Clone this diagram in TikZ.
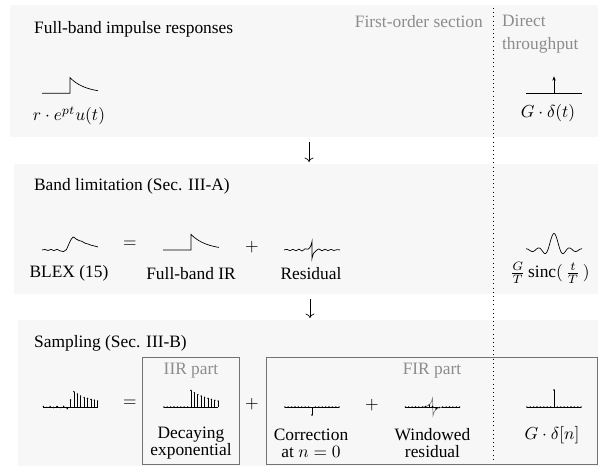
\documentclass[tikz,border=0pt]{standalone}
\usepackage{fontspec}
\setmainfont{Liberation Serif}
\usetikzlibrary{arrows.meta,fit}

\begin{document}
\begin{tikzpicture}[
  x=5.75pt, y=-5.75pt,
  font=\fontsize{10}{12}\selectfont,
  panel/.style={fill=black!3, inner sep=0pt},
  part/.style={draw=black!55, inner sep=0pt},
  title/.style={anchor=west},
  note/.style={text=black!45},
  lbl/.style={align=center, font=\fontsize{10}{9.6}\selectfont},
  wave/.style={y=5.75pt},
  arr/.style={->, shorten <=2.5pt, shorten >=1pt}
]
  \useasboundingbox (0,0) rectangle (60,46.6);
  % hintergrund der drei stufen
  \node[panel, fit={(1.0,0.5) (59.8,13.7)}]  (p1) {};
  \node[panel, fit={(1.4,16.4) (59.8,29.4)}] (p2) {};
  \node[panel, fit={(1.8,32.0) (59.8,46.6)}] (p3) {};
  \node[part, fit={(14.2,35.7) (23.9,46.4)}] (iir) {};
  \node[part, fit={(26.6,35.7) (59.7,46.4)}] (fir) {};
  \draw[dotted] (49.3,0.8) -- (49.3,46.0);
  % titel
  \node[title] (t1) at (2.8,2.9)  {Full-band impulse responses};
  \node[title] (t2) at (2.8,18.6) {Band limitation (Sec. III-A)};
  \node[title] (t3) at (2.8,34.3) {Sampling (Sec. III-B)};
  \node[note, anchor=east] (fos) at (48.9,2.2) {First-order section};
  \node[note, anchor=west, align=left, font=\fontsize{10}{13.4}\selectfont] (dtp) at (49.6,3.4) {Direct\\throughput};
  \node[note] (iirl) at (19.1,37.1) {IIR part};
  \node[note] (firl) at (43.2,37.1) {FIR part};
  % kurvenpositionen
  \coordinate (w1) at (7.0,9.33);
  \coordinate (w2) at (55.4,9.33);
  \coordinate (w3) at (7.0,25.0);
  \coordinate (w4) at (19.1,25.0);
  \coordinate (w5) at (31.2,25.0);
  \coordinate (w6) at (55.4,25.0);
  \coordinate (s1) at (7.05,40.7);
  \coordinate (s2) at (19.1,40.7);
  \coordinate (s3) at (31.2,40.7);
  \coordinate (s4) at (43.25,40.7);
  \coordinate (s5) at (55.4,40.7);
  % stufe 1
  \begin{scope}[shift={(w1)}, wave]
    \draw (-2.8,0) -- (0,0) -- (0,1.56) -- plot[domain=0:2.8, samples=30] (\x,{1.56*exp(-\x/1.56)});
  \end{scope}
  \begin{scope}[shift={(w2)}, wave]
    \draw (-2.8,0) -- (2.8,0);
    \draw[-{Stealth[length=2.5pt, width=2pt]}] (0,0) -- (0,1.7);
  \end{scope}
  \node (l1) at (6.9,11.6)  {$r\cdot e^{pt}u(t)$};
  \node (l2) at (54.8,11.3) {$G\cdot\delta(t)$};
  % stufe 2
  \begin{scope}[shift={(w3)}, wave]
    \draw plot[smooth, tension=0.55] coordinates {(-2.8,0) (-2.5,0.05) (-2.2,-0.05) (-1.9,0.06) (-1.6,-0.06) (-1.3,0.07) (-1.0,-0.08) (-0.65,-0.16) (-0.35,0.05) (-0.05,0.75) (0.3,1.3) (0.6,1.1) (0.9,0.95) (1.2,0.86) (1.5,0.68) (1.8,0.6) (2.1,0.48) (2.45,0.4) (2.8,0.3)};
  \end{scope}
  \begin{scope}[shift={(w4)}, wave]
    \draw (-2.8,0) -- (0,0) -- (0,1.56) -- plot[domain=0:2.8, samples=30] (\x,{1.56*exp(-\x/1.56)});
  \end{scope}
  \begin{scope}[shift={(w5)}, wave]
    \draw plot[smooth, tension=0.6] coordinates {(-2.8,0) (-2.5,0.06) (-2.2,-0.06) (-1.9,0.07) (-1.6,-0.08) (-1.3,0.09) (-1.0,-0.1) (-0.7,0.12) (-0.4,0.08) (-0.15,0.35) (0,0.85)}
      -- plot[smooth, tension=0.6] coordinates {(0,-0.85) (0.15,-0.35) (0.4,-0.08) (0.7,0.1) (1.0,-0.08) (1.3,0.08) (1.6,-0.06) (1.9,0.06) (2.2,-0.05) (2.5,0.04) (2.8,0)};
  \end{scope}
  \begin{scope}[shift={(w6)}, wave]
    \draw plot[domain=-2.8:2.8, samples=120, smooth] (\x,{1.65*sin(deg(pi*\x/0.62))/(pi*\x/0.62)});
  \end{scope}
  \node (l3) at (6.9,27.35)  {BLEX (15)};
  \node (l4) at (19.1,27.35) {Full-band IR};
  \node (l5) at (31.1,27.35) {Residual};
  \node (l6) at (55.0,27.3)  {$\frac{G}{T}\,\mathrm{sinc}(\,\frac{t}{T}\,)$};
  \node (eq1) at (13.0,24.4) {$=$};
  \node (pl1) at (25.2,24.7) {$+$};
  % stufe 3
  \begin{scope}[shift={(s1)}, wave]
    \draw (-2.72,0) -- (2.72,0);
    \foreach \k/\v in {-8/0.05,-7/-0.04,-6/0.05,-5/-0.05,-4/0.06,-3/-0.06,-2/0.07,-1/-0.18,0/0.7,1/1.55,2/1.3,3/1.1,4/0.95,5/0.85,6/0.76,7/0.68,8/0.6} {
      \draw (\k*0.34,0) -- (\k*0.34,\v);
      \fill (\k*0.34,\v) circle (0.45pt);
    }
  \end{scope}
  \begin{scope}[shift={(s2)}, wave]
    \draw (-2.72,0) -- (2.72,0);
    \foreach \k/\v in {-8/0,-7/0,-6/0,-5/0,-4/0,-3/0,-2/0,-1/0,0/1.65,1/1.42,2/1.25,3/1.1,4/0.97,5/0.86,6/0.76,7/0.67,8/0.6} {
      \draw (\k*0.34,0) -- (\k*0.34,\v);
      \fill (\k*0.34,\v) circle (0.45pt);
    }
  \end{scope}
  \begin{scope}[shift={(s3)}, wave]
    \draw (-2.72,0) -- (2.72,0);
    \foreach \k/\v in {-8/0,-7/0,-6/0,-5/0,-4/0,-3/0,-2/0,-1/0,0/-0.8,1/0,2/0,3/0,4/0,5/0,6/0,7/0,8/0} {
      \draw (\k*0.34,0) -- (\k*0.34,\v);
      \fill (\k*0.34,\v) circle (0.45pt);
    }
  \end{scope}
  \begin{scope}[shift={(s4)}, wave]
    \draw (-2.72,0) -- (2.72,0);
    \draw[black!50] (-1.0,0) .. controls (-0.3,0.05) and (-0.1,0.4) .. (0,0.85) -- (0.05,-0.85) .. controls (0.15,-0.4) and (0.35,-0.05) .. (1.0,0);
    \foreach \k/\v in {-8/0,-7/0,-6/0,-5/0,-4/0,-3/0,-2/0.05,-1/0.2,0/0.05,1/-0.2,2/-0.05,3/0,4/0,5/0,6/0,7/0,8/0} {
      \draw (\k*0.34,0) -- (\k*0.34,\v);
      \fill (\k*0.34,\v) circle (0.45pt);
    }
  \end{scope}
  \begin{scope}[shift={(s5)}, wave]
    \draw (-2.72,0) -- (2.72,0);
    \foreach \k/\v in {-8/0,-7/0,-6/0,-5/0,-4/0,-3/0,-2/0,-1/0,0/1.7,1/0,2/0,3/0,4/0,5/0,6/0,7/0,8/0} {
      \draw (\k*0.34,0) -- (\k*0.34,\v);
      \fill (\k*0.34,\v) circle (0.45pt);
    }
  \end{scope}
  \node (eq2) at (13.0,40.3) {$=$};
  \node (pl2) at (25.2,40.4) {$+$};
  \node (pl3) at (37.2,40.5) {$+$};
  \node[lbl] (l7)  at (19.1,44.3)  {Decaying\\exponential};
  \node[lbl] (l8)  at (31.1,44.3)  {Correction\\at $n=0$};
  \node[lbl] (l9)  at (43.25,44.3) {Windowed\\residual};
  \node (l10) at (55.2,43.5) {$G\cdot\delta[n]$};
  % pfeile
  \coordinate (ax1) at (30.9,0);
  \coordinate (ax2) at (31.0,0);
  \draw[arr] (p1.south -| ax1) -- (p2.north -| ax1);
  \draw[arr] (p2.south -| ax2) -- (p3.north -| ax2);
\end{tikzpicture}
\end{document}
